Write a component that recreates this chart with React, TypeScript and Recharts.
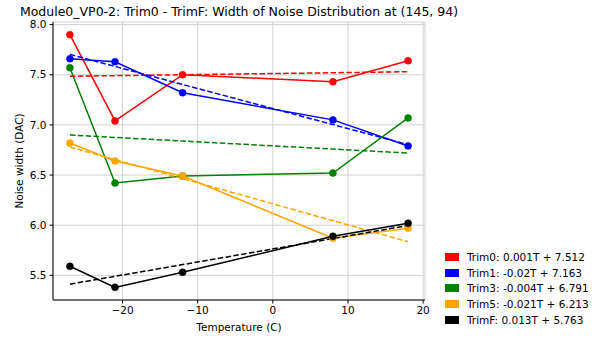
import { LineChart, Line, XAxis, YAxis, CartesianGrid } from 'recharts';

const temps = [-27, -21, -12, 8, 18];

const trim0 = [7.90, 7.04, 7.50, 7.43, 7.64];
const trim1 = [7.66, 7.63, 7.32, 7.05, 6.79];
const trim3 = [7.57, 6.42, 6.49, 6.52, 7.07];
const trim5 = [6.82, 6.64, 6.49, 5.87, 5.97];
const trimF = [5.59, 5.38, 5.53, 5.89, 6.02];

const seriesNames = ['Trim0', 'Trim1', 'Trim3', 'Trim5', 'TrimF'];
const slopes = ['0.001', '-0.02', '-0.004', '-0.021', '0.013'];
const intercepts = ['7.512', '7.163', '6.791', '6.213', '5.763'];
const COLORS = ['#ff0000', '#0000ff', '#008000', '#ffa500', '#000000'];

const xTicks = [-20, -10, 0, 10, 20];
const yTicks = [5.5, 6.0, 6.5, 7.0, 7.5, 8.0];

const allSeries = [trim0, trim1, trim3, trim5, trimF];

// one row per temperature, measured value + linear fit from the legend coefficients
const rows = temps.map((t, i) => {
  const row: Record<string, number> = { T: t };
  allSeries.forEach((s, k) => {
    row[`s${k}`] = s[i];
    row[`f${k}`] = parseFloat(slopes[k]) * t + parseFloat(intercepts[k]);
  });
  return row;
});

const FONT = '"DejaVu Sans", sans-serif';
const minus = (v: number) => (v < 0 ? `\u2212${Math.abs(v)}` : `${v}`);

export default function App() {
  return (
    <div
      style={{
        position: 'absolute',
        left: 0,
        top: 0,
        width: 592,
        height: 338,
        background: '#fff',
        fontFamily: FONT,
      }}
    >
      <div
        style={{
          position: 'absolute',
          left: 0,
          width: 478,
          top: 4,
          textAlign: 'center',
          fontSize: 12.5,
          color: '#000',
          whiteSpace: 'nowrap',
        }}
      >
        Module0_VP0-2: Trim0 - TrimF: Width of Noise Distribution at (145, 94)
      </div>

      <LineChart
        width={592}
        height={338}
        data={rows}
        margin={{ top: 22, right: 167, bottom: 0, left: 0 }}
        style={{ fontFamily: FONT }}
      >
        <CartesianGrid stroke="#d0d0d0" strokeWidth={1} />
        <XAxis
          dataKey="T"
          type="number"
          domain={[-29.25, 20.25]}
          ticks={xTicks}
          allowDataOverflow
          height={38}
          tickSize={3.5}
          tickMargin={3}
          tickFormatter={minus}
          tick={{ fontSize: 10.5, fill: '#000' }}
          tickLine={{ stroke: '#000' }}
          axisLine={{ stroke: '#000' }}
          label={{
            content: ({ viewBox }: any) => (
              <text
                x={viewBox.x + viewBox.width / 2}
                y={viewBox.y + 31}
                textAnchor="middle"
                fontSize={10.5}
                fill="#000"
              >
                Temperature (C)
              </text>
            ),
          }}
        />
        <XAxis
          xAxisId="top"
          dataKey="T"
          type="number"
          orientation="top"
          domain={[-29.25, 20.25]}
          height={0}
          tick={false}
          tickLine={false}
          axisLine={{ stroke: '#000' }}
        />
        <YAxis
          type="number"
          domain={[5.254, 8.026]}
          ticks={yTicks}
          allowDataOverflow
          width={53}
          tickSize={3.5}
          tickMargin={3}
          tickFormatter={(v: number) => v.toFixed(1)}
          tick={{ fontSize: 10.5, fill: '#000' }}
          tickLine={{ stroke: '#000' }}
          axisLine={{ stroke: '#000' }}
          label={{
            content: ({ viewBox }: any) => {
              const cx = viewBox.x + 19;
              const cy = viewBox.y + viewBox.height / 2;
              return (
                <text
                  x={cx}
                  y={cy}
                  transform={`rotate(-90, ${cx}, ${cy})`}
                  textAnchor="middle"
                  dominantBaseline="central"
                  fontSize={10.5}
                  fill="#000"
                >
                  Noise width (DAC)
                </text>
              );
            },
          }}
        />
        <YAxis
          yAxisId="right"
          orientation="right"
          type="number"
          domain={[5.254, 8.026]}
          width={0}
          tick={false}
          tickLine={false}
          axisLine={{ stroke: '#000' }}
        />
        {allSeries.map((_, k) => [
          <Line
            key={`s${k}`}
            dataKey={`s${k}`}
            stroke={COLORS[k]}
            strokeWidth={1.5}
            dot={{ r: 3.5, fill: COLORS[k], stroke: COLORS[k], strokeWidth: 0.5 }}
            activeDot={false}
            isAnimationActive={false}
          />,
          <Line
            key={`f${k}`}
            dataKey={`f${k}`}
            stroke={COLORS[k]}
            strokeWidth={1.5}
            strokeDasharray="5.5 2.4"
            dot={false}
            activeDot={false}
            isAnimationActive={false}
          />,
        ])}
      </LineChart>

      <div style={{ position: 'absolute', left: 445, top: 249, fontSize: 10.5, color: '#000' }}>
        {seriesNames.map((name, k) => (
          <div key={name} style={{ display: 'flex', alignItems: 'center', height: 15.75 }}>
            <span
              style={{
                display: 'inline-block',
                width: 14,
                height: 8,
                background: COLORS[k],
                marginRight: 8,
              }}
            />
            <span style={{ whiteSpace: 'nowrap' }}>
              {name}: {slopes[k]}T + {intercepts[k]}
            </span>
          </div>
        ))}
      </div>
    </div>
  );
}
